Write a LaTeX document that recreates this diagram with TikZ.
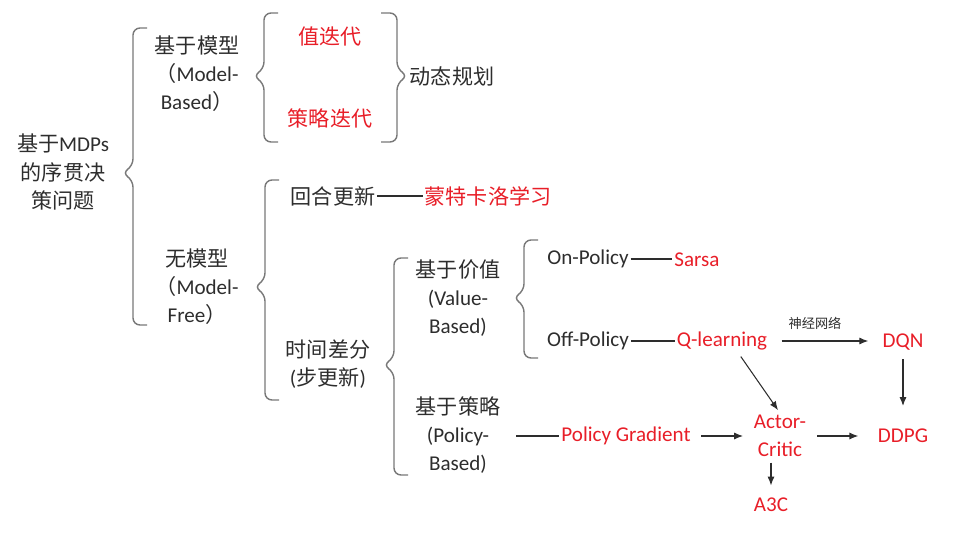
\documentclass[tikz,border=0pt]{standalone}
\usepackage{fontspec}
\setmainfont{Carlito}
\newfontfamily\cjk{Noto Sans CJK SC}
\newcommand{\zh}[1]{{\cjk #1}}
\usetikzlibrary{arrows.meta}
\definecolor{inkgray}{RGB}{45,45,45}
\definecolor{keyred}{RGB}{232,30,40}
\definecolor{bracegray}{RGB}{120,120,120}
\tikzset{
  lbl/.style={inner sep=1pt,text=inkgray,font=\fontsize{12}{16}\selectfont,align=center},
  hot/.style={lbl,text=keyred},
  brc/.style={draw=bracegray,line width=0.8pt,rounded corners=4pt},
  link/.style={draw=inkgray,line width=0.6pt},
  arr/.style={link,-{Latex[length=5pt,width=4pt]}},
}
% brace opening to the right: hook x, top y, bottom y, tip y
\newcommand{\lbrc}[4]{%
  \draw[brc] (#1,#2) -- (#1-14,#2) -- (#1-14,#4-7) -- (#1-25,#4)
    -- (#1-14,#4+7) -- (#1-14,#3) -- (#1,#3);}
% brace opening to the left
\newcommand{\rbrc}[4]{%
  \draw[brc] (#1,#2) -- (#1+16,#2) -- (#1+16,#4-7) -- (#1+27,#4)
    -- (#1+16,#4+7) -- (#1+16,#3) -- (#1,#3);}
\begin{document}
\begin{tikzpicture}[x=0.02cm,y=-0.02cm]
  \useasboundingbox (0,0) rectangle (975,535);
  \node[lbl] (root) at (63,172) {\zh{基于}MDPs\\\zh{的序贯决}\\\zh{策问题}};
  \node[lbl] (mb) at (197,74) {\zh{基于模型}\\\zh{（}Model-\\Based\zh{）}};
  \node[hot] (vi) at (330,37) {\zh{值迭代}};
  \node[hot] (pi) at (330,118) {\zh{策略迭代}};
  \node[lbl] (dp) at (452,76) {\zh{动态规划}};
  \node[lbl] (mf) at (197,287) {\zh{无模型}\\\zh{（}Model-\\Free\zh{）}};
  \node[lbl] (ep) at (333,196) {\zh{回合更新}};
  \node[hot] (mc) at (488,196) {\zh{蒙特卡洛学习}};
  \node[lbl] (td) at (328,364) {\zh{时间差分}\\(\zh{步更新})};
  \node[lbl] (vb) at (458,298) {\zh{基于价值}\\(Value-\\Based)};
  \node[lbl] (pb) at (458,435) {\zh{基于策略}\\(Policy-\\Based)};
  \node[lbl] (on) at (588,259) {On-Policy};
  \node[hot] (sarsa) at (697,260) {Sarsa};
  \node[lbl] (off) at (588,341) {Off-Policy};
  \node[hot] (ql) at (722,341) {Q-learning};
  \node[hot] (dqn) at (903,342) {DQN};
  \node[hot] (pg) at (626,436) {Policy Gradient};
  \node[hot] (ac) at (780,436) {Actor-\\Critic};
  \node[hot] (ddpg) at (903,436) {DDPG};
  \node[hot] (a3c) at (771,505) {A3C};
  \node[lbl,font=\fontsize{7.5}{9}\selectfont] (nn) at (815,323) {\zh{神经网络}};

  \lbrc{147}{28}{325}{173}
  \lbrc{278}{13}{142}{76}
  \rbrc{381}{13}{142}{76}
  \lbrc{279}{180}{400}{287}
  \lbrc{408}{258}{475}{365}
  \lbrc{538}{240}{358}{298}

  \draw[link] (ep.east) -- (ep.east -| mc.west);
  \draw[link] (on.east) -- (on.east -| sarsa.west);
  \draw[link] (off.east) -- (off.east -| ql.west);
  \draw[link,shorten <=8pt] (pb.east |- pg.west) -- (pg.west);
  \draw[arr,shorten <=7pt,shorten >=7pt] (ql.east) -- (ql.east -| dqn.west);
  \draw[arr,shorten <=5pt,shorten >=5pt] (pg.east) -- (pg.east -| ac.west);
  \draw[arr,shorten <=5pt,shorten >=10pt] (ac.east) -- (ac.east -| ddpg.west);
  \draw[arr,shorten <=4pt,shorten >=12pt] (dqn.south -| ddpg.north) -- (ddpg.north);
  \draw[arr,shorten <=3pt,shorten >=2pt] ([xshift=9pt]ql.south) -- (ac.north);
  \draw[arr,shorten <=2pt,shorten >=6pt] (a3c.north |- ac.south) -- (a3c.north);
\end{tikzpicture}
\end{document}
